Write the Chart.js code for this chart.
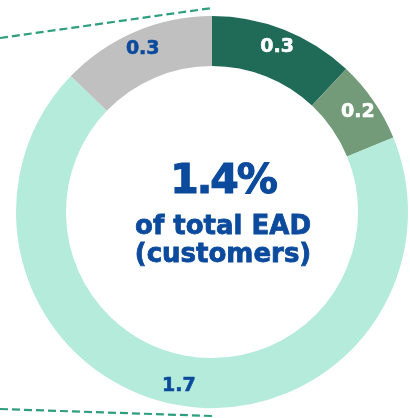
<!DOCTYPE html>
<html>
<head>
<meta charset="utf-8">
<script src="https://cdn.jsdelivr.net/npm/chart.js@4.4.1/dist/chart.umd.min.js"></script>
<style>
  html, body { margin: 0; padding: 0; background: #fff; }
  #wrap { width: 410px; height: 418px; }
</style>
</head>
<body>
<div id="wrap"><canvas id="eadChart" width="410" height="418"></canvas></div>
<script>
// Segment data (clockwise from 12 o'clock)
const segments = ['Stage A', 'Stage B', 'Stage C', 'Stage D'];
const values = [0.3, 0.17, 1.71, 0.32];
const colors = ['#1f6b58', '#749b79', '#b5ebdb', '#c0c0c0'];
const labelColors = ['#ffffff', '#ffffff', '#0b4a9c', '#0b4a9c'];

const centerLines = ['1.4%', 'of total EAD', '(customers)'];

const BLUE = '#0b4a9c';
const FONT = '"DejaVu Sans", sans-serif';

// value labels on the ring + centre text + the dashed connector lines
const ringText = {
    id: 'ringText',
    afterDatasetsDraw(chart) {
        const ctx = chart.ctx;
        const meta = chart.getDatasetMeta(0);
        ctx.save();
        ctx.textAlign = 'center';
        ctx.textBaseline = 'middle';
        ctx.font = 'bold 19px ' + FONT;
        ctx.lineWidth = 0.6;
        meta.data.forEach((arc, i) => {
            const p = arc.getProps(['startAngle', 'endAngle', 'innerRadius', 'outerRadius', 'x', 'y']);
            const mid = (p.startAngle + p.endAngle) / 2;
            const r = (p.innerRadius + p.outerRadius) / 2 + 6;
            const tx = p.x + Math.cos(mid) * r, ty = p.y + Math.sin(mid) * r;
            ctx.fillStyle = labelColors[i];
            ctx.strokeStyle = labelColors[i];
            ctx.fillText(values[i].toFixed(1), tx, ty);
            ctx.strokeText(values[i].toFixed(1), tx, ty);
        });

        const cx = meta.data[0].x, cy = meta.data[0].y;
        const outer = meta.data[0].outerRadius;
        ctx.fillStyle = BLUE;
        ctx.strokeStyle = BLUE;
        ctx.textBaseline = 'alphabetic';
        ctx.lineWidth = 1.2;
        ctx.font = 'bold 41px ' + FONT;
        ctx.letterSpacing = '-2px';
        ctx.fillText(centerLines[0], cx + 11, cy - 19);
        ctx.strokeText(centerLines[0], cx + 11, cy - 19);
        ctx.letterSpacing = '0px';
        ctx.lineWidth = 0.8;
        ctx.font = 'bold 26px ' + FONT;
        ctx.fillText(centerLines[1], cx + 11, cy + 22);
        ctx.strokeText(centerLines[1], cx + 11, cy + 22);
        ctx.fillText(centerLines[2], cx + 11, cy + 50);
        ctx.strokeText(centerLines[2], cx + 11, cy + 50);

        // dashed lines off to the left
        ctx.strokeStyle = '#2e9e7e';
        ctx.lineWidth = 2.2;
        ctx.setLineDash([8, 4]);
        ctx.beginPath();
        ctx.moveTo(0, cy - 174);
        ctx.lineTo(cx, cy - outer - 8);
        ctx.stroke();
        ctx.beginPath();
        ctx.moveTo(0, cy + outer + 1);
        ctx.lineTo(cx, cy + outer + 8);
        ctx.stroke();
        ctx.restore();
    }
};

const ctx = document.getElementById('eadChart').getContext('2d');
new Chart(ctx, {
    type: 'doughnut',
    data: {
        labels: segments,
        datasets: [{
            data: values,
            backgroundColor: colors,
            borderWidth: 0
        }]
    },
    options: {
        responsive: false,
        animation: false,
        cutout: '74.5%',
        layout: { padding: { left: 16, right: 2, top: 16, bottom: 10 } },
        plugins: {
            legend: { display: false },
            tooltip: { enabled: false }
        }
    },
    plugins: [ringText]
});
</script>
</body>
</html>
